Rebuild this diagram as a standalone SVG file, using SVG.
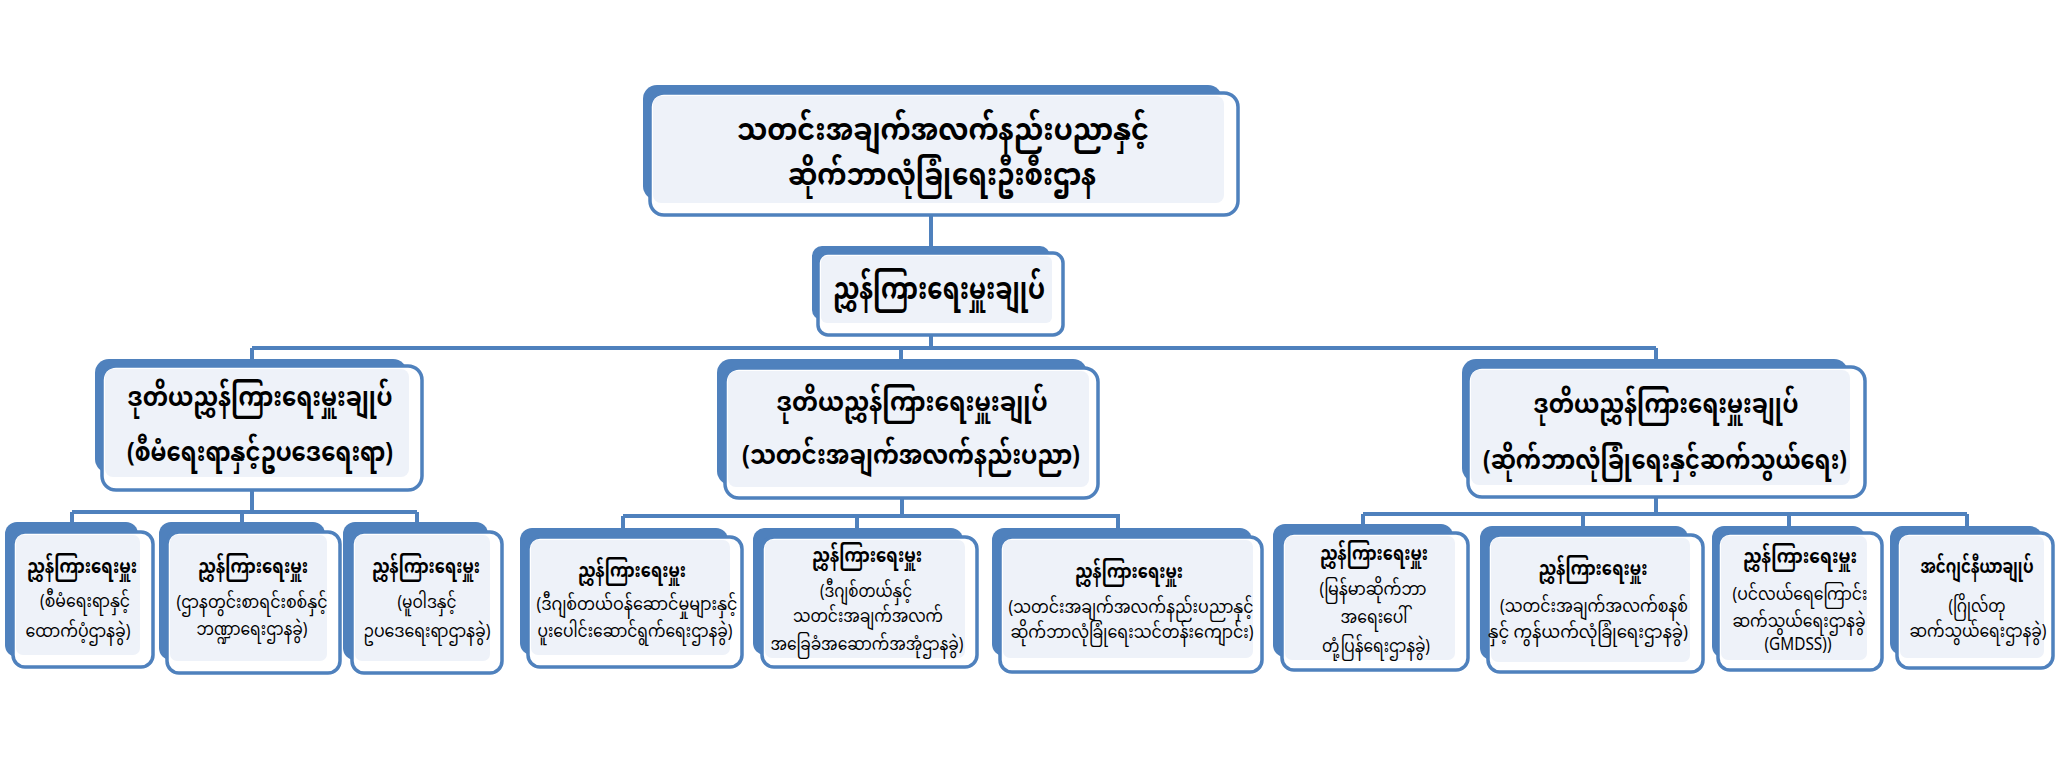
<svg xmlns="http://www.w3.org/2000/svg" width="2061" height="762" viewBox="0 0 2061 762">
<style>
.back{fill:#4F81BD}
.front{fill:#FFFFFF;stroke:#4F81BD;stroke-width:3.5}
.light{fill:#EEF2F9}
.conn{stroke:#4F81BD;stroke-width:4;fill:none}
text{font-family:"Noto Sans Myanmar","Myanmar Text","Padauk","Noto Sans",sans-serif;fill:#000;text-anchor:middle;dominant-baseline:central}
.t1{font-size:30px;font-weight:bold}
.t2{font-size:26px;font-weight:bold}
.b{font-size:20px;font-weight:bold}
.r{font-size:18px}
</style>
<rect width="2061" height="762" fill="#FFFFFF"/>
<g id="connectors">
<path class="conn" d="M931 215V253M931 335V348M252 348H1656M252 348V359M901 348V360M1656 348V359"/>
<path class="conn" d="M252 490V512M72 512H417M72 512V522M242 512V522M417 512V522"/>
<path class="conn" d="M902 498V516M623 516H1120M623 516V528M857 516V528M1118 516V528"/>
<path class="conn" d="M1656 497V514M1363 514H1967M1363 514V524M1583 514V526M1789 514V526M1967 514V526"/>
</g>
<g id="n-top">
<rect class="back" x="643" y="85" width="579" height="115" rx="14"/>
<rect class="front" x="650" y="93" width="588" height="122" rx="14"/>
<rect class="light" x="653" y="96" width="571" height="107" rx="8"/>
<text class="t1" x="943" y="133" textLength="412" lengthAdjust="spacingAndGlyphs">သတင်းအချက်အလက်နည်းပညာနှင့်</text>
<text class="t1" x="942" y="178" textLength="308" lengthAdjust="spacingAndGlyphs">ဆိုက်ဘာလုံခြုံရေးဦးစီးဌာန</text>
</g>
<g id="n-dg">
<rect class="back" x="812" y="246" width="238" height="74" rx="10"/>
<rect class="front" x="818" y="253" width="245" height="82" rx="10"/>
<rect class="light" x="821" y="256" width="231" height="67" rx="6"/>
<text class="t1" x="939" y="292" textLength="212" lengthAdjust="spacingAndGlyphs">ညွှန်ကြားရေးမှူးချုပ်</text>
</g>
<g id="n-ddg1">
<rect class="back" x="95" y="359" width="312" height="114" rx="14"/>
<rect class="front" x="102" y="366" width="320" height="124" rx="14"/>
<rect class="light" x="105" y="369" width="304" height="108" rx="8"/>
<text class="t2" x="260" y="400" textLength="265" lengthAdjust="spacingAndGlyphs">ဒုတိယညွှန်ကြားရေးမှူးချုပ်</text>
<text class="t2" x="260" y="455" textLength="266" lengthAdjust="spacingAndGlyphs">(စီမံရေးရာနှင့်ဥပဒေရေးရာ)</text>
</g>
<g id="n-ddg2">
<rect class="back" x="717" y="359" width="370" height="126" rx="14"/>
<rect class="front" x="725" y="368" width="373" height="130" rx="14"/>
<rect class="light" x="728" y="371" width="361" height="116" rx="8"/>
<text class="t2" x="912" y="405" textLength="271" lengthAdjust="spacingAndGlyphs">ဒုတိယညွှန်ကြားရေးမှူးချုပ်</text>
<text class="t2" x="911" y="458" textLength="338" lengthAdjust="spacingAndGlyphs">(သတင်းအချက်အလက်နည်းပညာ)</text>
</g>
<g id="n-ddg3">
<rect class="back" x="1462" y="359" width="386" height="123" rx="14"/>
<rect class="front" x="1468" y="367" width="397" height="130" rx="14"/>
<rect class="light" x="1471" y="370" width="379" height="115" rx="8"/>
<text class="t2" x="1666" y="407" textLength="265" lengthAdjust="spacingAndGlyphs">ဒုတိယညွှန်ကြားရေးမှူးချုပ်</text>
<text class="t2" x="1665" y="463" textLength="364" lengthAdjust="spacingAndGlyphs">(ဆိုက်ဘာလုံခြုံရေးနှင့်ဆက်သွယ်ရေး)</text>
</g>
<g id="n-b1">
<rect class="back" x="5" y="522" width="133" height="135" rx="12"/>
<rect class="front" x="13" y="532" width="140" height="135" rx="12"/>
<rect class="light" x="16" y="535" width="124" height="120" rx="7"/>
<text class="b" x="82" y="568" textLength="110" lengthAdjust="spacingAndGlyphs">ညွှန်ကြားရေးမှူး</text>
<text class="r" x="85" y="602" textLength="90" lengthAdjust="spacingAndGlyphs">(စီမံရေးရာနှင့်</text>
<text class="r" x="78" y="632" textLength="105" lengthAdjust="spacingAndGlyphs">ထောက်ပံ့ဌာနခွဲ)</text>
</g>
<g id="n-b2">
<rect class="back" x="159" y="522" width="166" height="138" rx="12"/>
<rect class="front" x="167" y="532" width="173" height="141" rx="12"/>
<rect class="light" x="170" y="535" width="157" height="126" rx="7"/>
<text class="b" x="253" y="568" textLength="110" lengthAdjust="spacingAndGlyphs">ညွှန်ကြားရေးမှူး</text>
<text class="r" x="252" y="603" textLength="151" lengthAdjust="spacingAndGlyphs">(ဌာနတွင်းစာရင်းစစ်နှင့်</text>
<text class="r" x="252" y="630" textLength="111" lengthAdjust="spacingAndGlyphs">ဘဏ္ဍာရေးဌာနခွဲ)</text>
</g>
<g id="n-b3">
<rect class="back" x="343" y="522" width="145" height="138" rx="12"/>
<rect class="front" x="352" y="532" width="150" height="141" rx="12"/>
<rect class="light" x="355" y="535" width="135" height="126" rx="7"/>
<text class="b" x="426" y="568" textLength="108" lengthAdjust="spacingAndGlyphs">ညွှန်ကြားရေးမှူး</text>
<text class="r" x="427" y="603" textLength="59" lengthAdjust="spacingAndGlyphs">(မူဝါဒနှင့်</text>
<text class="r" x="427" y="632" textLength="127" lengthAdjust="spacingAndGlyphs">ဥပဒေရေးရာဌာနခွဲ)</text>
</g>
<g id="n-b4">
<rect class="back" x="520" y="528" width="208" height="127" rx="12"/>
<rect class="front" x="528" y="537" width="214" height="130" rx="12"/>
<rect class="light" x="531" y="540" width="199" height="115" rx="7"/>
<text class="b" x="632" y="572" textLength="108" lengthAdjust="spacingAndGlyphs">ညွှန်ကြားရေးမှူး</text>
<text class="r" x="637" y="605" textLength="201" lengthAdjust="spacingAndGlyphs">(ဒီဂျစ်တယ်ဝန်ဆောင်မှုများနှင့်</text>
<text class="r" x="635" y="632" textLength="195" lengthAdjust="spacingAndGlyphs">ပူးပေါင်းဆောင်ရွက်ရေးဌာနခွဲ)</text>
</g>
<g id="n-b5">
<rect class="back" x="753" y="528" width="210" height="127" rx="12"/>
<rect class="front" x="762" y="537" width="215" height="130" rx="12"/>
<rect class="light" x="765" y="540" width="200" height="118" rx="7"/>
<text class="b" x="867" y="557" textLength="110" lengthAdjust="spacingAndGlyphs">ညွှန်ကြားရေးမှူး</text>
<text class="r" x="866" y="592" textLength="92" lengthAdjust="spacingAndGlyphs">(ဒီဂျစ်တယ်နှင့်</text>
<text class="r" x="868" y="617" textLength="150" lengthAdjust="spacingAndGlyphs">သတင်းအချက်အလက်</text>
<text class="r" x="867" y="645" textLength="193" lengthAdjust="spacingAndGlyphs">အခြေခံအဆောက်အအုံဌာနခွဲ)</text>
</g>
<g id="n-b6">
<rect class="back" x="992" y="528" width="260" height="128" rx="12"/>
<rect class="front" x="1000" y="537" width="262" height="135" rx="12"/>
<rect class="light" x="1003" y="540" width="250" height="118" rx="7"/>
<text class="b" x="1129" y="573" textLength="108" lengthAdjust="spacingAndGlyphs">ညွှန်ကြားရေးမှူး</text>
<text class="r" x="1131" y="608" textLength="245" lengthAdjust="spacingAndGlyphs">(သတင်းအချက်အလက်နည်းပညာနှင့်</text>
<text class="r" x="1132" y="633" textLength="243" lengthAdjust="spacingAndGlyphs">ဆိုက်ဘာလုံခြုံရေးသင်တန်းကျောင်း)</text>
</g>
<g id="n-b7">
<rect class="back" x="1273" y="524" width="180" height="133" rx="12"/>
<rect class="front" x="1282" y="533" width="186" height="137" rx="12"/>
<rect class="light" x="1285" y="536" width="170" height="124" rx="7"/>
<text class="b" x="1374" y="555" textLength="108" lengthAdjust="spacingAndGlyphs">ညွှန်ကြားရေးမှူး</text>
<text class="r" x="1373" y="590" textLength="107" lengthAdjust="spacingAndGlyphs">(မြန်မာဆိုက်ဘာ</text>
<text class="r" x="1374" y="618" textLength="67" lengthAdjust="spacingAndGlyphs">အရေးပေါ်</text>
<text class="r" x="1376" y="647" textLength="108" lengthAdjust="spacingAndGlyphs">တုံ့ပြန်ရေးဌာနခွဲ)</text>
</g>
<g id="n-b8">
<rect class="back" x="1480" y="526" width="208" height="134" rx="12"/>
<rect class="front" x="1488" y="535" width="215" height="137" rx="12"/>
<rect class="light" x="1491" y="538" width="199" height="124" rx="7"/>
<text class="b" x="1593" y="570" textLength="109" lengthAdjust="spacingAndGlyphs">ညွှန်ကြားရေးမှူး</text>
<text class="r" x="1594" y="607" textLength="188" lengthAdjust="spacingAndGlyphs">(သတင်းအချက်အလက်စနစ်</text>
<text class="r" x="1588" y="633" textLength="200" lengthAdjust="spacingAndGlyphs">နှင့် ကွန်ယက်လုံခြုံရေးဌာနခွဲ)</text>
</g>
<g id="n-b9">
<rect class="back" x="1712" y="526" width="153" height="132" rx="12"/>
<rect class="front" x="1718" y="533" width="164" height="137" rx="12"/>
<rect class="light" x="1721" y="536" width="146" height="124" rx="7"/>
<text class="b" x="1800" y="558" textLength="114" lengthAdjust="spacingAndGlyphs">ညွှန်ကြားရေးမှူး</text>
<text class="r" x="1800" y="595" textLength="135" lengthAdjust="spacingAndGlyphs">(ပင်လယ်ရေကြောင်း</text>
<text class="r" x="1799" y="622" textLength="133" lengthAdjust="spacingAndGlyphs">ဆက်သွယ်ရေးဌာနခွဲ</text>
<text class="r" x="1798" y="645" textLength="67" lengthAdjust="spacingAndGlyphs">(GMDSS))</text>
</g>
<g id="n-b10">
<rect class="back" x="1890" y="526" width="152" height="129" rx="12"/>
<rect class="front" x="1897" y="533" width="156" height="135" rx="12"/>
<rect class="light" x="1900" y="536" width="144" height="122" rx="7"/>
<text class="b" x="1977" y="568" textLength="113" lengthAdjust="spacingAndGlyphs">အင်ဂျင်နီယာချုပ်</text>
<text class="r" x="1977" y="607" textLength="57" lengthAdjust="spacingAndGlyphs">(ဂြိုလ်တု</text>
<text class="r" x="1978" y="632" textLength="137" lengthAdjust="spacingAndGlyphs">ဆက်သွယ်ရေးဌာနခွဲ)</text>
</g>
</svg>
